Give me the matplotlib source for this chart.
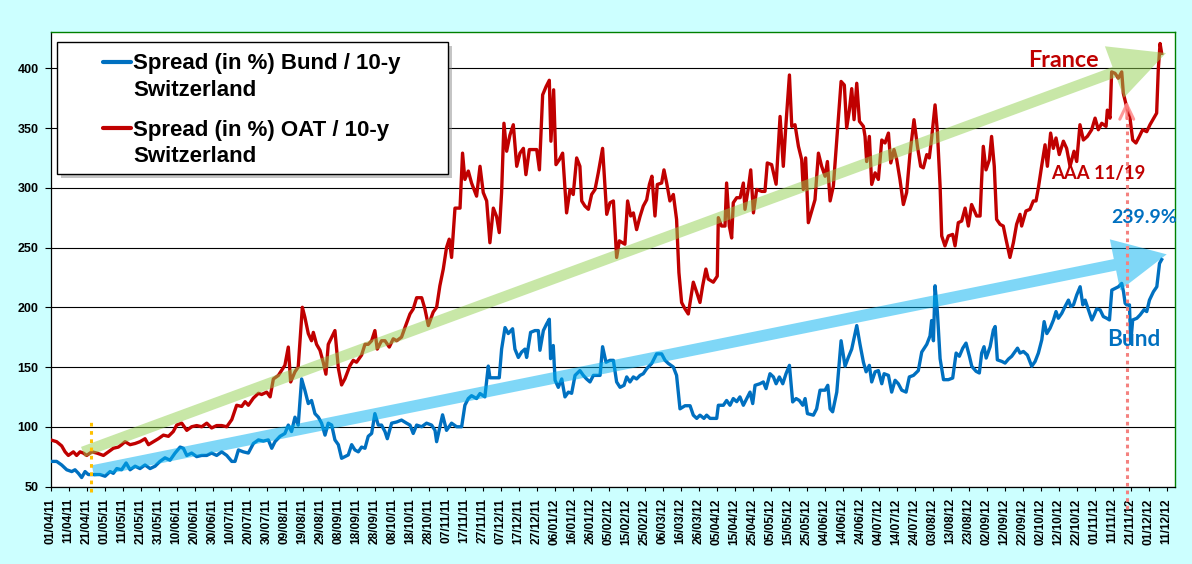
import datetime as dt
import matplotlib
matplotlib.use("Agg")
import matplotlib.pyplot as plt
import matplotlib.dates as mdates
from matplotlib.patches import FancyArrowPatch, Rectangle, ArrowStyle
from matplotlib.lines import Line2D

# ---------------- data (days since 01/04/2011, spread in bp) ----------------
START = dt.datetime(2011, 4, 1)

bund_days = [0, 3.3, 6.1, 8.9, 11.7, 13.5, 15.4, 17.2, 19.1, 20.9, 23.7, 27.4, 30.2, 33, 34.8, 36.7, 39.4,
             41.9, 44.1, 46.9, 49.6, 52.4, 55.2, 58, 60.7, 63.5, 66.3, 69.1, 71.9, 73.7, 75.6, 78.3, 81.1,
             83.9, 86.7, 89.4, 92.2, 95, 97.8, 100.6, 102.4, 104.3, 107, 109.8, 112.6, 115.4, 118.1, 120.9,
             122.8, 124.6, 127.4, 130.1, 132, 133.8, 135.7, 137.5, 139.4, 141.2, 143.1, 144.9, 146.8, 148.7,
             150.5, 152.4, 154.2, 156.1, 157.9, 159.8, 161.6, 163.5, 165.3, 167.2, 169, 170.9, 172.7, 174.6,
             176.4, 178.3, 180.1, 182, 183.8, 185.7, 187, 189.4, 192.2, 194.9, 197.7, 199.6, 201.4, 203.3,
             206.1, 208.8, 211.6, 213.5, 214.4, 216.2, 217.7, 219.9, 222.7, 225.5, 228.3, 230.1, 232, 233.8,
             236.6, 238.5, 241.2, 243.1, 244, 246.8, 249.2, 250.5, 252.4, 254.2, 256.6, 257.9, 259.8, 261.6,
             263.5, 264.4, 266.6, 269, 270.9, 271.8, 273.7, 275.5, 277, 277.7, 279.2, 280.2, 282, 283.9,
             285.7, 287.6, 289.4, 291.3, 294, 295.9, 297.7, 299.6, 301.5, 303.3, 305.2, 306.6, 308.5, 310.7,
             312.6, 314.4, 316.3, 318.5, 320, 321.8, 323.7, 325.5, 327.4, 329.2, 331.1, 333.9, 336.6, 339.4,
             341.3, 343.1, 345.9, 347.7, 349.6, 352.4, 355.2, 357, 358.9, 360.7, 362.9, 364.4, 366.3, 370,
             370.9, 373.7, 375.5, 377.4, 379.2, 381.1, 382.9, 384.8, 386.7, 388.5, 390, 391.3, 394, 395.9,
             397.4, 399.6, 401.5, 403, 404.8, 406.7, 408.5, 410.4, 412.2, 414.1, 415.9, 417.8, 419.1, 420.4,
             423.7, 425.5, 427.4, 430.2, 431.7, 433, 434.4, 436.7, 439.1, 441.3, 443.1, 445, 447.8, 449.6,
             451.5, 453, 454.8, 456.1, 458, 459.8, 461.7, 463, 465.4, 467.2, 469.1, 470.9, 472.8, 475.2, 477,
             479.3, 482, 483.9, 486.7, 488.5, 489.4, 490.4, 491.3, 492.6, 494.1, 496, 498.7, 501.1, 503,
             504.8, 506.7, 508.5, 510.4, 511.7, 514.1, 515.9, 517.2, 518.5, 519.7, 521.9, 523.7, 524.7,
             525.9, 528.4, 530.2, 532.1, 533.9, 535.8, 537.1, 538.5, 540.4, 542.6, 545, 546.9, 548.7, 550.6,
             551.9, 553.4, 555.2, 557.1, 558.5, 559.8, 561.7, 563.5, 565.4, 566.7, 568.2, 570, 571.9, 573.4,
             574.7, 576.5, 578.4, 579.7, 581.1, 583, 584.8, 586.7, 588.2, 589.5, 591.3, 593.2, 595, 596,
             596.9, 597.8, 599.3, 600, 601.1, 603.4, 605.2, 607.4, 608.9, 610.4, 612.6, 614.5, 616, 617.2]
bund_vals = [71, 71, 68, 64, 62.5, 64, 61, 57.5, 62.5, 60, 60, 60, 58.6, 62.5, 61, 65, 64,
             69.7, 64, 67, 65, 68, 65, 67, 71, 74, 72, 78, 83, 82, 76, 78, 75,
             76, 76, 78, 76, 79, 76, 71, 71, 80.6, 79, 78, 86, 89, 88, 89,
             82, 87.5, 92, 94.4, 101.4, 96, 108, 101.4, 140, 130.6, 119.4, 122, 111, 108,
             103, 93, 103, 101.4, 89, 85, 73.6, 75, 76.4, 85, 80.6, 79, 83, 82,
             92, 94.4, 111, 101.4, 101.4, 96, 90, 103, 104, 105.6, 103, 101.4, 94.4, 101.4,
             100, 103, 101.4, 97, 87.5, 100, 110, 97, 103, 100, 100, 118, 123.6, 126,
             123.6, 127.8, 125, 150.8, 141, 141, 141, 165, 183, 178, 182, 165, 158, 162.5,
             165, 158, 179, 180.5, 180.5, 164, 180.5, 186, 190, 157, 168, 139, 133, 140,
             125, 129, 128, 143, 147, 143, 140, 137.5, 143, 143, 143, 167, 154, 155.6,
             155.6, 137.5, 133, 134.7, 141.7, 137.5, 141.7, 140, 143, 144.4, 148.6, 153, 161, 161,
             155.6, 153, 150, 143, 115, 117.6, 117.6, 109.7, 107, 109.7, 107, 109.7, 107, 107,
             118, 118, 122, 118, 123.6, 121, 125, 118, 123.6, 129, 119.4, 134.7, 136, 137.5,
             131.9, 144.4, 141.7, 136, 141.7, 136, 144.4, 151.4, 120.8, 123.6, 122, 118, 123.6, 111,
             109.7, 115, 130.6, 130.6, 134.7, 115, 112.5, 129, 172, 150.7, 158, 165, 184.7, 169,
             154, 146, 151.4, 137.5, 146, 147, 136, 144.4, 143, 129, 138.9, 136, 130.6, 129, 141.7,
             143, 147, 162.5, 169, 176, 188.9, 172, 218, 196, 157, 139.4, 139.4, 140.8, 161.7,
             159, 165.8, 170, 159, 150.6, 146.4, 145, 161.7, 167, 157.5, 167, 181, 183.9,
             156, 154.7, 153.3, 156.7, 159, 163, 165.8, 161.7, 163, 160, 150.6, 154.7, 161.7, 172.8,
             188, 178, 182.5, 189.4, 196.4, 190.8, 195, 200.6, 206, 200.6, 202, 210.3, 217.2, 202,
             206, 197.8, 189.4, 193.6, 198.6, 197.8, 192.2, 190.8, 189.4, 214.4, 215.8, 217.2, 220, 213,
             203.3, 202, 202, 170, 189.4, 190.8, 193.6, 198, 196.4, 206, 213, 217.2, 236.7, 239.9]

oat_days = [0, 3.3, 6.1, 8, 9.8, 12.6, 14.4, 16.3, 18.1, 20, 22.8, 25.6, 29.3, 32, 34.8, 37.6, 39.4, 41.3,
            44.1, 46.9, 49.6, 52.4, 54.3, 57, 59.8, 62.6, 65.4, 68.1, 70, 72.8, 75.6, 78.3, 81.1, 83.9,
            86.7, 89.4, 92.2, 95, 97.8, 100.6, 103.3, 106.1, 108, 109.8, 112.6, 115.4, 117.2, 120, 121.9,
            123.7, 126.5, 130.1, 132, 133.3, 135.7, 137.5, 139.8, 141.2, 143.1, 144.9, 145.9, 147.7, 149.6,
            151.4, 152.9, 154.2, 157.9, 159.8, 161.6, 163.5, 166.2, 168.1, 169.9, 172.7, 174.6, 176.4,
            178.3, 180.1, 181.4, 183.8, 185.7, 188.1, 190.3, 192.2, 194.9, 196.8, 199.6, 201.4, 203.3,
            206.1, 207.9, 209.8, 212.5, 214.4, 216.2, 218.1, 219.9, 221.4, 222.7, 224.6, 227.4, 228.8,
            230.1, 232, 233.8, 236.6, 238.5, 240.3, 242.2, 244, 245.9, 247.7, 249.2, 250.5, 251.8, 253.3,
            255.1, 257, 258.9, 260.7, 262.6, 264, 265.9, 268.1, 270, 271.5, 273.3, 275.2, 277, 277.9,
            279.4, 280.7, 282.6, 284.4, 286.6, 288.5, 290.3, 292.2, 294, 295, 296.8, 298.7, 300.5, 302.4,
            304.2, 306.6, 308.9, 310.7, 312.6, 314.4, 315.9, 319, 320.5, 322.2, 323.7, 325.5, 327.4, 329.2,
            331.1, 332.6, 334, 335.7, 337, 339.4, 340.7, 342.2, 344, 345.9, 347.7, 349, 350.5, 352.4,
            354.2, 355.5, 357, 358.9, 360.7, 362.2, 364, 365.3, 368.1, 370.3, 370.9, 372.7, 374.6, 375.5,
            377, 378.3, 379.2, 381.1, 383, 384.8, 385.7, 387.6, 388.9, 390.4, 392.2, 395, 396.8, 398.1,
            400.5, 403, 405.2, 407, 408.5, 410.4, 411.7, 413.5, 415.4, 417.2, 418.1, 419.4, 420.9, 422.8,
            424.6, 426.5, 428.3, 430.2, 431.5, 433, 434.8, 436.7, 439.1, 440.9, 442.2, 443.7, 445, 446.3,
            447.8, 449.3, 451.5, 452.4, 453.3, 454.8, 456.1, 458, 459.8, 461.7, 463.5, 465.4, 466.7, 468.5,
            470, 471.8, 473.7, 475.5, 477.4, 479.6, 481.5, 483.3, 484.8, 486.7, 488.1, 489.4, 491.3, 492.6,
            494.1, 495, 496.8, 498.7, 501.1, 502.4, 504.2, 506.1, 508, 509.8, 511.6, 514.4, 516.3, 517.2,
            518.1, 519.6, 521.5, 522.7, 524.2, 525.5, 527.4, 529.2, 530.7, 532.9, 534.8, 536.6, 538.5,
            539.4, 541.8, 544, 545.9, 547.4, 548.7, 550.5, 552.4, 553.7, 555.5, 557, 558.5, 560.3, 562.6,
            564.4, 566.3, 568.5, 570, 571.8, 573.7, 575.9, 578.3, 580.2, 582, 583.9, 586.3, 587, 588.5,
            589.4, 591.3, 593.1, 595, 595.9, 597.7, 599.6, 601.1, 602.9, 604.8, 606.6, 608.9, 610.7,
            614.4, 615.3, 616.3, 617.2]
oat_vals = [89, 87.5, 84, 79, 76, 79, 76, 79, 78, 76, 79, 78, 76, 79, 82, 83, 85, 87.5,
            85, 86, 87.5, 90, 85, 87.5, 90, 93, 92, 96, 101.4, 103, 97, 100, 101, 100,
            103, 99, 101, 101, 100, 106, 118, 117, 121, 118, 124, 128, 127, 129, 125,
            140, 143, 151.4, 166.7, 137.5, 146, 150, 200, 191.7, 178, 172, 179, 169, 164,
            154, 144, 169, 180.5, 149, 135, 140.3, 151, 155.6, 154, 160, 169, 169,
            172, 180.5, 165, 172, 172, 166.7, 173.6, 172, 175, 183, 194.4, 198.6, 208,
            208, 198.6, 184.7, 196, 200, 218, 232, 250, 257, 241.7, 283, 283, 329,
            307, 314, 304, 293, 318, 296, 289, 254, 283, 276, 262.5, 296, 354, 330.6,
            344, 352.8, 318, 329, 333, 311, 332, 332, 332, 315, 377.8, 384.7, 390, 339,
            382, 319.4, 323.6, 329, 279, 298.6, 294.4, 325, 318, 289, 284.7, 282, 294.4, 298.6,
            312.5, 333, 277.8, 287.5, 289, 241.7, 255.6, 252.8, 289, 276.4, 279, 265, 276, 284.7,
            290, 302.8, 309.7, 276.4, 302.8, 304, 315, 304, 289, 294.4, 273.6, 229, 204, 198.6,
            194.4, 207, 221, 212.5, 204, 218, 232, 223.6, 221, 226, 275, 268, 268, 304,
            268, 258, 287.5, 291.7, 291.7, 304, 282, 300, 315, 279, 298.6, 297, 297, 320.8,
            319.4, 303, 359.7, 318, 354, 394.4, 351.4, 352.8, 334.7, 323.6, 298.6, 325, 270.8, 280.6,
            290, 329, 318, 309.7, 322, 289, 301.4, 340, 389, 386, 350, 365, 383, 357,
            387.5, 355.6, 351.4, 343, 322, 343, 302.8, 312.5, 307, 340, 337.5, 345.8, 320.8, 332,
            323.6, 307, 286, 296, 329, 357, 334.7, 318, 316.7, 327.8, 325, 341.7, 369.4, 347,
            301.4, 259.7, 251.4, 259.7, 261, 251.4, 270.8, 272.2, 283, 268, 286, 276.4, 276.4, 307,
            334.7, 315, 323.6, 343, 318, 273.6, 269.4, 268, 257, 241.7, 254, 269.4, 277.8,
            268, 280.6, 282, 289, 289, 300, 318, 336, 318, 345.8, 333, 341.7, 327.8, 339,
            333, 318, 330.6, 322, 352.8, 340, 343, 348.6, 358.3, 348.6, 354, 351.4, 365, 358.3,
            397, 395.8, 391.7, 397, 379, 368, 358.3, 340, 337.5, 343, 348.6, 347, 352.8,
            362.5, 398.6, 420.8, 412.5]

y_ticks = [50, 100, 150, 200, 250, 300, 350, 400]
n_x_ticks = 63          # one tick every 10 days: 01/04/11 ... 11/12/12
tick_step = 10

bund_label = ["Spread (in %) Bund / 10-y", "Switzerland"]
oat_label = ["Spread (in %) OAT / 10-y", "Switzerland"]
downgrade_day = 597.8   # Moody's AAA loss, 19/11/2012
marker_day = 22.2       # yellow start marker

BLUE = "#0070C0"
RED = "#C00000"


def day(d):
    return START + dt.timedelta(days=d)


def num(d):
    return mdates.date2num(day(d))


W, H = 1192, 564
fig = plt.figure(figsize=(W / 100, H / 100), dpi=100, facecolor="#CCFFFF")


def fx(x):
    return x / W


def fy(y):
    return 1 - y / H


ax = fig.add_axes([fx(50.7), fy(486.5), (1175 - 50.7) / W, (486.5 - 32) / H])
ax.set_facecolor("white")

ax.plot([day(d) for d in bund_days], bund_vals, color=BLUE, lw=2.4, zorder=3,
        solid_joinstyle="round")
ax.plot([day(d) for d in oat_days], oat_vals, color=RED, lw=2.4, zorder=3,
        solid_joinstyle="round")

ax.set_xlim(day(0), day(624.6))
ax.set_ylim(50, 430.4)

ax.set_yticks(y_ticks)
ax.set_xticks([day(i * tick_step) for i in range(n_x_ticks)])
ax.xaxis.set_major_formatter(mdates.DateFormatter("%d/%m/%y"))
ax.yaxis.grid(True, color="black", lw=0.8, zorder=1)
ax.set_axisbelow(True)

for lab in ax.get_xticklabels():
    lab.set_rotation(90)
    lab.set_fontfamily("Liberation Sans")
    lab.set_fontweight("bold")
    lab.set_fontsize(8.6)
for lab in ax.get_yticklabels():
    lab.set_fontfamily("Liberation Sans")
    lab.set_fontweight("bold")
    lab.set_fontsize(9)
ax.tick_params(axis="x", direction="out", length=3.2, width=0.8, pad=5.2)
ax.tick_params(axis="y", direction="out", length=4, width=0.8, pad=4.8)

for s in ("left", "bottom"):
    ax.spines[s].set_color("black")
    ax.spines[s].set_linewidth(0.9)
for s in ("top", "right"):
    ax.spines[s].set_color("#008000")
    ax.spines[s].set_linewidth(1.0)

# big trend arrows
green_arrow = FancyArrowPatch(
    (num(17.9), 78.9), (num(619.6), 412.8),
    arrowstyle=ArrowStyle.Simple(head_length=39.6, head_width=39.5, tail_width=7.8),
    mutation_scale=1, shrinkA=0, shrinkB=0, color="#92D050", alpha=0.5, lw=0, zorder=4)
ax.add_patch(green_arrow)
blue_arrow = FancyArrowPatch(
    (num(23.5), 63.0), (num(620.0), 244.3),
    arrowstyle=ArrowStyle.Simple(head_length=38.0, head_width=37.4, tail_width=8.4),
    mutation_scale=1, shrinkA=0, shrinkB=0, color="#00B0F0", alpha=0.5, lw=0, zorder=4)
ax.add_patch(blue_arrow)

# vertical dotted markers
ax.plot([day(downgrade_day)] * 2, [31.2, 360], color="#F4817F", lw=2.2,
        ls=(0, (1.2, 1.3)), clip_on=False, zorder=5)
ax.annotate("", xy=(day(downgrade_day), 372.6), xytext=(day(downgrade_day), 358),
            arrowprops=dict(arrowstyle="->,head_length=1.05,head_width=0.5", lw=2.2,
                            color="#FF8080", alpha=0.8, shrinkA=0, shrinkB=0),
            zorder=5)
ax.plot([day(marker_day)] * 2, [45.4, 107.3], color="#FFC000", lw=2.2,
        ls=(0, (1.2, 1.5)), clip_on=False, zorder=5)

# annotations
fig.text(fx(1028), fy(66.7), "France", family="Lato", weight="bold", size=16.8,
         color=RED, va="baseline", ha="left", zorder=6)
fig.text(fx(1051), fy(179.3), "AAA 11/19", family="Lato", weight="bold", size=13.3,
         color=RED, va="baseline", ha="left", zorder=6)
fig.text(fx(1111), fy(223.3), "239.9%", family="Lato", weight="bold", size=14,
         color=BLUE, va="baseline", ha="left", zorder=6)
fig.text(fx(1107), fy(346), "Bund", family="Lato", weight="bold", size=16.3,
         color=BLUE, va="baseline", ha="left", zorder=6)

# legend (drawn by hand so the handle sits on the first label line)
fig.add_artist(Rectangle((fx(61), fy(178.5)), 391 / W, 132 / H, transform=fig.transFigure,
                         facecolor="#808080", alpha=0.45, lw=0, zorder=7))
fig.add_artist(Rectangle((fx(57), fy(174)), 391 / W, 132 / H, transform=fig.transFigure,
                         facecolor="white", edgecolor="black", lw=1.0, zorder=8))
for color, lines, y_handle, y_base in ((BLUE, bund_label, 61.7, 69.5),
                                        (RED, oat_label, 128, 135.7)):
    fig.add_artist(Line2D([fx(103), fx(131)], [fy(y_handle)] * 2, color=color, lw=3,
                          solid_capstyle="round", transform=fig.transFigure, zorder=9))
    for k, txt in enumerate(lines):
        fig.text(fx(133), fy(y_base + 26.5 * k), txt, family="Liberation Sans",
                 weight="bold", size=16, color="black", va="baseline", ha="left", zorder=9)

fig.savefig("out.png", dpi=100, facecolor=fig.get_facecolor())
